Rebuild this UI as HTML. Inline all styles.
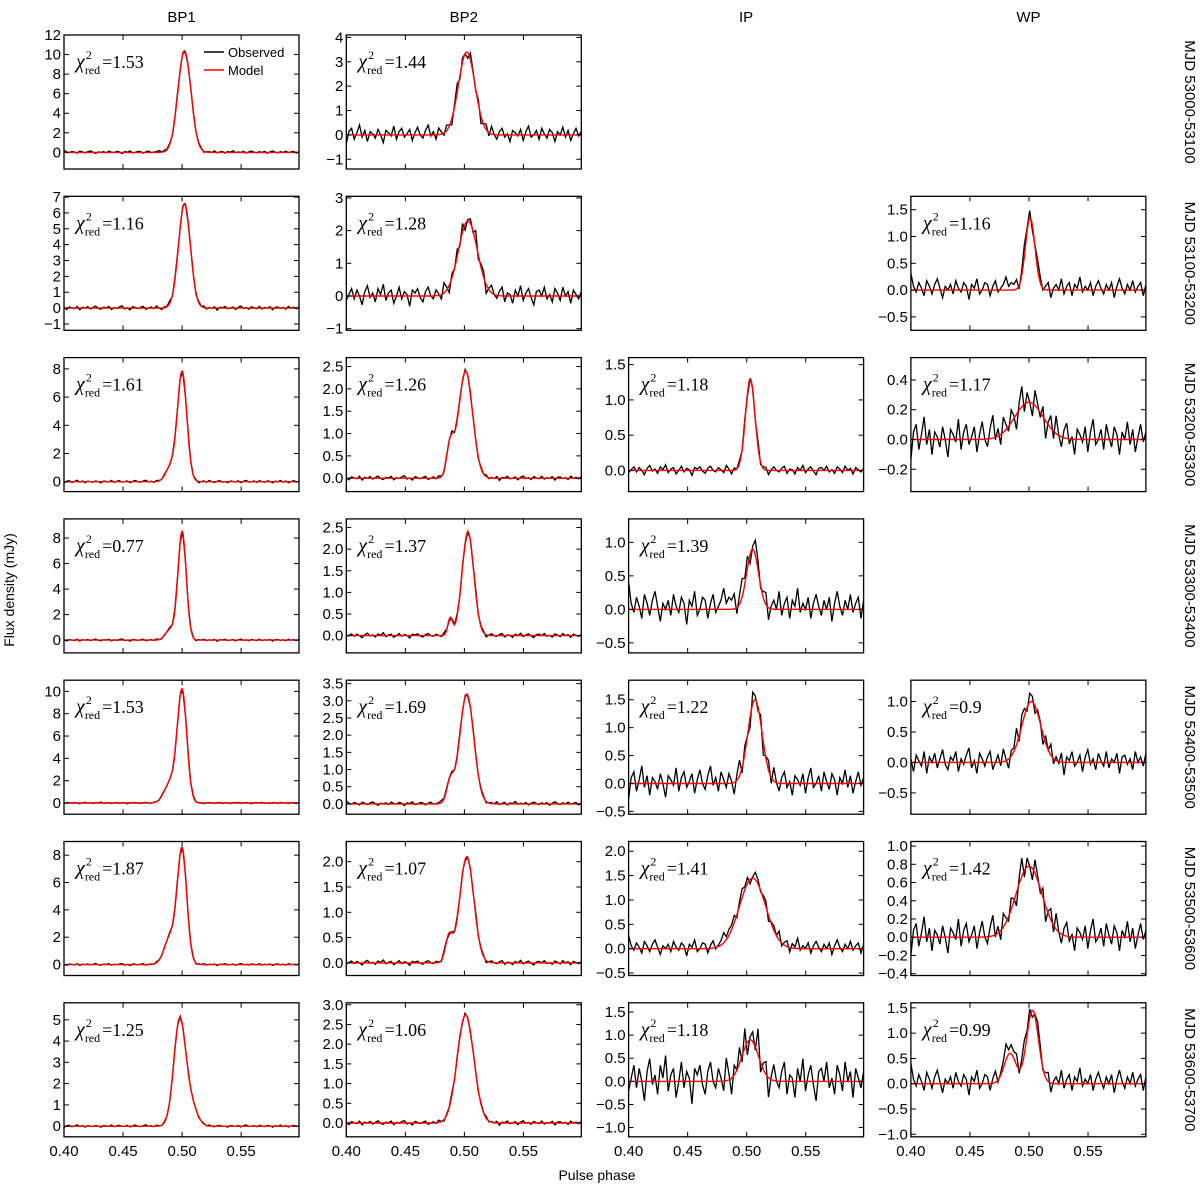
<!DOCTYPE html>
<html><head><meta charset="utf-8"><style>
body{margin:0;background:#fff;}
svg{display:block;font-family:"Liberation Sans",sans-serif;}
</style></head><body>
<svg id="fig" width="1200" height="1188" viewBox="0 0 1200 1188"></svg>
<script>
// ---- data ----
const columns = ["BP1","BP2","IP","WP"];
const rowLabels = ["MJD 53000-53100","MJD 53100-53200","MJD 53200-53300","MJD 53300-53400","MJD 53400-53500","MJD 53500-53600","MJD 53600-53700"];
const xTicks = [0.40,0.45,0.50,0.55];
const panelRow = [0,0,1,1,1,2,2,2,2,3,3,3,4,4,4,4,5,5,5,5,6,6,6,6];
const panelCol = [0,1,0,1,3,0,1,2,3,0,1,2,0,1,2,3,0,1,2,3,0,1,2,3];
const chi2 = ["1.53","1.44","1.16","1.28","1.16","1.61","1.26","1.18","1.17","0.77","1.37","1.39","1.53","1.69","1.22","0.9","1.87","1.07","1.41","1.42","1.25","1.06","1.18","0.99"];
const yMin = [-1.7,-1.4,-1.4,-1.05,-0.75,-0.7,-0.3,-0.3,-0.35,-1,-0.4,-0.65,-1,-0.3,-0.55,-0.85,-0.8,-0.25,-0.55,-0.42,-0.5,-0.35,-1.2,-1.05];
const yMax = [12,4.1,7.05,3.05,1.75,8.8,2.7,1.6,0.55,9.5,2.7,1.35,11,3.6,1.85,1.35,9,2.4,2.2,1.05,5.8,3.05,1.7,1.6];
const yStep = [2,1,1,1,0.5,2,0.5,0.5,0.2,2,0.5,0.5,2,0.5,0.5,0.5,2,0.5,0.5,0.2,1,0.5,0.5,0.5];
const yTickMin = [0,-1,-1,-1,-0.5,0,0,0,-0.2,0,0,-0.5,0,0,-0.5,-0.5,0,0,-0.5,-0.4,0,0,-1,-1];
const models = [
 [[10.4,0.502,0.0055]],[[3.4,0.502,0.007]],[[6.6,0.502,0.005]],[[2.3,0.503,0.008]],[[1.35,0.501,0.004]],
 [[7.8,0.500,0.004],[1.0,0.490,0.004]],[[2.4,0.501,0.006],[0.7,0.488,0.003]],[[1.3,0.503,0.004]],[[0.25,0.50,0.012]],
 [[8.5,0.500,0.0035],[0.8,0.490,0.004]],[[2.4,0.503,0.005],[0.4,0.488,0.002]],[[0.9,0.505,0.005]],
 [[10,0.500,0.004],[1.8,0.490,0.005]],[[3.2,0.502,0.006],[0.6,0.488,0.003]],[[1.5,0.507,0.006]],[[1.0,0.502,0.008]],
 [[8.3,0.500,0.004],[2.0,0.490,0.005]],[[2.1,0.502,0.006],[0.5,0.487,0.003]],[[1.45,0.505,0.011]],[[0.78,0.50,0.011]],
 [[5.0,0.498,0.005],[0.9,0.508,0.005]],[[2.75,0.501,0.007]],[[0.9,0.503,0.007]],[[1.45,0.503,0.005],[0.6,0.484,0.005]]
];
const noise = [0.25,0.45,0.18,0.45,0.35,0.12,0.07,0.1,0.17,0.12,0.08,0.45,0.1,0.1,0.35,0.3,0.1,0.07,0.3,0.25,0.07,0.08,0.7,0.45];
const residSet = [0,1,2,3,0,1,2,3,1,2,3,0,3,0,1,2,2,3,0,1,1,2,3,0];
const resid0 = [0.9,0.2,-0.1,0.4,0.1,-0.3,0.5,0.2,-0.2,0.3,0.6,0.1,-0.4,0.2,0.0,0.3,-0.2,0.5,0.1,-0.1,0.4,0.2,-0.5,0.3,0.1,0.6,-0.2,0.0,0.4,0.3,-0.3,0.2,0.5,-0.1,0.1,0.3,0.7,0.2,0.4,0.3,0.5,-0.2,0.3,0.6,0.2,0.4,-0.3,0.1,0.5,0.3,-0.1,0.2,0.4,-0.4,0.1,0.3,0.0,0.6,-0.2,0.2,0.4,-0.3,0.3,0.1,0.7,-0.1,0.2,0.0,0.4,-0.3,0.2,0.5,0.1,-0.2,0.3,0.0,0.4,-0.4,0.2,0.6,0.1,-0.2,0.3,0.0,0.5,-0.1,0.2,0.4,-0.3,0.3];
const resid1 = [-0.8,0.3,0.6,-0.4,0.2,0.9,-0.2,0.4,-0.6,0.3,0.1,-0.3,0.5,0.0,-0.7,0.4,0.2,-0.1,0.8,-0.4,0.3,0.6,-0.2,0.1,0.5,-0.5,0.2,0.7,0.0,-0.3,0.4,0.9,-0.1,0.3,-0.4,0.6,0.2,-0.2,0.5,0.1,-0.6,0.3,0.8,-0.3,0.4,0.0,-0.5,0.6,0.2,-0.2,0.4,-0.7,0.1,0.5,-0.3,0.7,0.0,-0.4,0.3,0.6,-0.2,0.1,-0.6,0.4,0.2,-0.1,0.5,-0.5,0.3,0.8,-0.2,0.0,0.4,-0.4,0.6,0.1,-0.3,0.5,0.2,-0.6,0.3,0.0,0.7,-0.2,0.4,-0.5,0.1,0.6,-0.1,0.3];
const resid2 = [0.2,-0.5,0.4,0.1,-0.2,0.6,-0.6,0.3,0.0,0.5,-0.3,0.2,0.7,-0.1,-0.4,0.3,0.1,0.6,-0.5,0.2,-0.1,0.4,0.8,-0.3,0.1,-0.6,0.5,0.2,-0.2,0.3,0.6,-0.4,0.0,0.4,-0.2,0.7,0.1,-0.5,0.3,0.2,0.9,-0.3,0.6,0.4,-0.2,0.5,0.3,-0.4,0.2,0.1,-0.6,0.4,0.0,0.6,-0.3,0.2,-0.1,0.5,-0.7,0.3,0.1,0.6,-0.2,0.0,0.4,-0.5,0.3,0.7,-0.1,0.2,-0.4,0.5,0.1,-0.2,0.6,-0.3,0.2,0.0,0.5,-0.6,0.3,0.4,-0.1,0.2,-0.4,0.6,0.0,0.3,-0.2,0.5];
const resid3 = [-0.3,0.1,0.5,-0.2,0.4,0.0,-0.6,0.3,0.7,-0.1,0.2,-0.4,0.5,0.1,0.8,-0.3,0.2,0.4,-0.5,0.0,0.6,-0.2,0.3,0.1,-0.7,0.4,0.2,0.5,-0.1,-0.4,0.3,0.6,0.0,-0.2,0.4,0.1,-0.3,0.7,0.2,-0.5,0.3,0.0,0.5,-0.2,0.6,-0.4,0.1,0.3,-0.1,0.8,-0.3,0.2,0.4,-0.6,0.1,0.5,0.0,-0.2,0.3,0.6,-0.4,0.2,0.1,-0.5,0.4,0.0,0.7,-0.3,0.2,0.5,-0.1,-0.6,0.3,0.4,0.0,0.6,-0.2,0.1,-0.4,0.5,0.2,-0.3,0.6,0.0,0.3,-0.5,0.4,0.1,-0.2,0.3];
const resids = [resid0,resid1,resid2,resid3];

// ---- drawing ----
const NS="http://www.w3.org/2000/svg";
const svg=document.getElementById('fig');
function el(tag,attrs,parent){const e=document.createElementNS(NS,tag);for(const k in attrs)e.setAttribute(k,attrs[k]);(parent||svg).appendChild(e);return e;}
const PX0=64, PDX=282.3, PY0=35, PDY=161.3, PW=235, PH=134, XMIN=0.40, XMAX=0.599;
function modelAt(comps,x){let s=0;for(const c of comps)s+=c[0]*Math.exp(-0.5*((x-c[1])/c[2])**2);return s;}
function fmt(v,step){return step<1?v.toFixed(1):String(Math.round(v));}

columns.forEach((t,c)=>{
  const tx=el('text',{x:PX0+c*PDX+PW/2,y:22,'text-anchor':'middle','font-size':15});
  
  
  tx.textContent=t;
});
rowLabels.forEach((t,r)=>{
  const cy=PY0+r*PDY+PH/2;
  const tx=el('text',{x:1185,y:cy,'text-anchor':'middle','font-size':15,transform:`rotate(90 1185 ${cy})`});
  
  
  tx.textContent=t;
});
{
 const t=el('text',{x:14,y:590,'text-anchor':'middle','font-size':14,transform:'rotate(-90 14 590)'});
 
 
 t.textContent='Flux density (mJy)';
 const t2=el('text',{x:597,y:1180,'text-anchor':'middle','font-size':14});
 
 
 t2.textContent='Pulse phase';
}

for(let i=0;i<panelRow.length;i++){
  const r=panelRow[i],c=panelCol[i];
  const x0=PX0+c*PDX,y0=PY0+r*PDY;
  const g=el('g',{});
  
  
  const xs=v=>x0+(v-XMIN)/(XMAX-XMIN)*PW;
  const ys=v=>y0+PH-(v-yMin[i])/(yMax[i]-yMin[i])*PH;
  const clipId='clip'+i;
  const cp=el('clipPath',{id:clipId},g);el('rect',{x:x0,y:y0,width:PW,height:PH},cp);
  const comps=models[i],res=resids[residSet[i]],n=res.length;
  let po='',pm='';
  for(let k=0;k<n;k++){
    const xv=XMIN+(XMAX-XMIN)*k/(n-1);
    const m=modelAt(comps,xv);
    const o=m+noise[i]*res[k];
    po+=(k?'L':'M')+xs(xv).toFixed(1)+','+ys(o).toFixed(1);
  }
  for(let k=0;k<=300;k++){
    const xv=XMIN+(XMAX-XMIN)*k/300;
    pm+=(k?'L':'M')+xs(xv).toFixed(1)+','+ys(modelAt(comps,xv)).toFixed(1);
  }
  const lo=el('path',{d:po,fill:'none',stroke:'#000','stroke-width':1.3,'clip-path':`url(#${clipId})`},g);
  
  
  const lm=el('path',{d:pm,fill:'none',stroke:'#f00','stroke-width':1.4,'clip-path':`url(#${clipId})`},g);
  
  
  el('rect',{x:x0,y:y0,width:PW,height:PH,fill:'none',stroke:'#000','stroke-width':1.3},g);
  xTicks.forEach(v=>{
    const X=xs(v);
    el('line',{x1:X,x2:X,y1:y0+PH,y2:y0+PH-5,stroke:'#000'},g);
    el('line',{x1:X,x2:X,y1:y0,y2:y0+5,stroke:'#000'},g);
    if(r===6){const t=el('text',{x:X,y:y0+PH+19,'text-anchor':'middle','font-size':15},g);
      
      
      t.textContent=v.toFixed(2);}
  });
  for(let v=yTickMin[i];v<=yMax[i]+1e-9;v+=yStep[i]){
    const Y=ys(v);
    el('line',{x1:x0,x2:x0+5,y1:Y,y2:Y,stroke:'#000'},g);
    el('line',{x1:x0+PW,x2:x0+PW-5,y1:Y,y2:Y,stroke:'#000'},g);
    const t=el('text',{x:x0-3,y:Y+5,'text-anchor':'end','font-size':15},g);
    
    
    const vv=Math.abs(v)<1e-9?0:v;
    t.textContent=fmt(vv,yStep[i]).replace('-','\u2212');
  }
  const ct=el('text',{x:x0+12,y:y0+33,'font-size':18,'font-family':'"Liberation Serif",serif'},g);
  
  
  ct.innerHTML=`<tspan font-style="italic" font-size="20">χ</tspan><tspan font-size="12" dy="-9" dx="1">2</tspan><tspan font-size="12" dx="-7" dy="15">red</tspan><tspan dy="-6" dx="2">=${chi2[i]}</tspan>`;
  if(i===0){
    const lg=el('g',{},g);
    
    
    el('line',{x1:x0+140,x2:x0+160,y1:52,y2:52,stroke:'#000','stroke-width':1.5},lg);
    el('line',{x1:x0+140,x2:x0+160,y1:70,y2:70,stroke:'#f00','stroke-width':1.5},lg);
    const a=el('text',{x:x0+164,y:57,'font-size':13},lg);a.textContent='Observed';
    
    
    const b=el('text',{x:x0+164,y:75,'font-size':13},lg);b.textContent='Model';
    
    
  }
}
</script>
</body></html>
